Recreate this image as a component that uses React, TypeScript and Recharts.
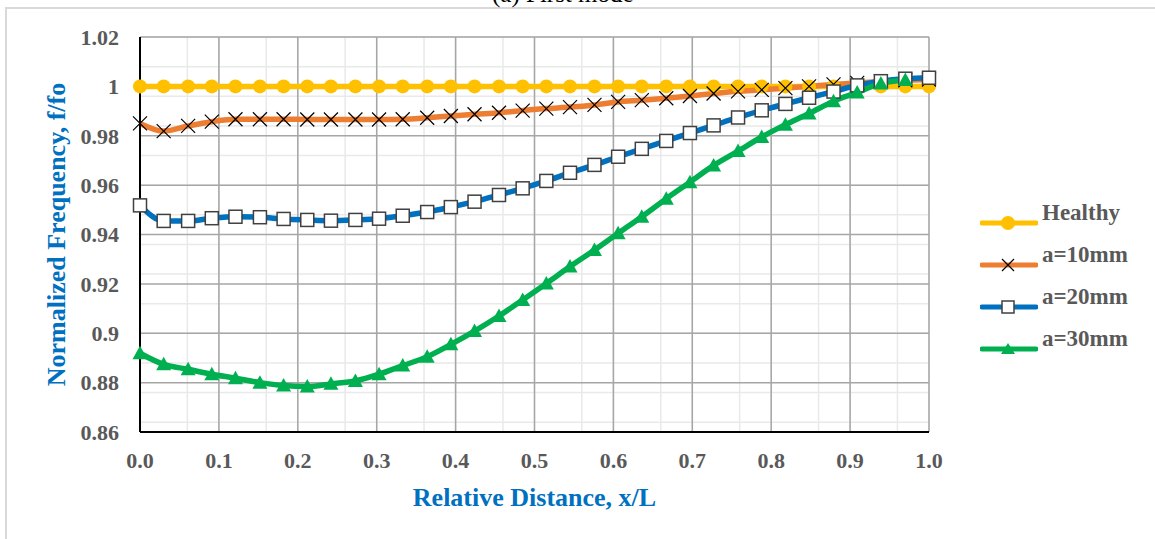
import { LineChart, Line, XAxis, YAxis, CartesianGrid } from "recharts";

const xValues = [
  0, 0.03, 0.061, 0.091, 0.121, 0.152, 0.182, 0.212, 0.242, 0.273, 0.303, 0.333,
  0.364, 0.394, 0.424, 0.455, 0.485, 0.515, 0.545, 0.576, 0.606, 0.636, 0.667,
  0.697, 0.727, 0.758, 0.788, 0.818, 0.848, 0.879, 0.909, 0.939, 0.97, 1.0,
];

const healthy = [
  1, 1, 1, 1, 1, 1, 1, 1, 1, 1, 1, 1, 1, 1, 1, 1, 1, 1, 1, 1, 1, 1, 1, 1, 1, 1,
  1, 1, 1, 1, 1, 1, 1, 1,
];

const a10 = [
  0.985, 0.9819, 0.984, 0.9857, 0.9867, 0.9867, 0.9867, 0.9866, 0.9866, 0.9866,
  0.9866, 0.9867, 0.9873, 0.988, 0.9887, 0.9893, 0.9902, 0.991, 0.9916, 0.9925,
  0.9937, 0.9944, 0.9952, 0.9961, 0.9971, 0.998, 0.9986, 0.9993, 1.0, 1.0008,
  1.0014, 1.002, 1.0025, 1.0028,
];

const a20 = [
  0.9518, 0.9455, 0.9455, 0.9466, 0.9472, 0.947, 0.9463, 0.9459, 0.9456, 0.9459,
  0.9464, 0.9476, 0.9491, 0.9511, 0.9533, 0.956, 0.9587, 0.9617, 0.965, 0.9682,
  0.9715, 0.9747, 0.9779, 0.9811, 0.9842, 0.9874, 0.9903, 0.9929, 0.9954, 0.9979,
  1.0004, 1.0021, 1.0031, 1.0035,
];

// last x has no point for a=30mm
const a30 = [
  0.8919, 0.8874, 0.8854, 0.8834, 0.8818, 0.88, 0.8788, 0.8784, 0.8795, 0.8807,
  0.8834, 0.8869, 0.8905, 0.8955, 0.9009, 0.907, 0.9135, 0.9202, 0.927, 0.9337,
  0.9405, 0.9472, 0.9545, 0.9612, 0.968, 0.9738, 0.9795, 0.9845, 0.989, 0.994,
  0.9975, 1.0012, 1.0026,
];

const xTicks = [0, 0.1, 0.2, 0.3, 0.4, 0.5, 0.6, 0.7, 0.8, 0.9, 1.0];
const yTicks = [0.86, 0.88, 0.9, 0.92, 0.94, 0.96, 0.98, 1.0, 1.02];
const xMinor = [
  0, 0.02, 0.04, 0.06, 0.08, 0.1, 0.12, 0.14, 0.16, 0.18, 0.2, 0.22, 0.24, 0.26,
  0.28, 0.3, 0.32, 0.34, 0.36, 0.38, 0.4, 0.42, 0.44, 0.46, 0.48, 0.5, 0.52, 0.54,
  0.56, 0.58, 0.6, 0.62, 0.64, 0.66, 0.68, 0.7, 0.72, 0.74, 0.76, 0.78, 0.8, 0.82,
  0.84, 0.86, 0.88, 0.9, 0.92, 0.94, 0.96, 0.98, 1.0,
];
const yMinor = [
  0.86, 0.864, 0.868, 0.872, 0.876, 0.88, 0.884, 0.888, 0.892, 0.896, 0.9, 0.904,
  0.908, 0.912, 0.916, 0.92, 0.924, 0.928, 0.932, 0.936, 0.94, 0.944, 0.948,
  0.952, 0.956, 0.96, 0.964, 0.968, 0.972, 0.976, 0.98, 0.984, 0.988, 0.992,
  0.996, 1.0, 1.004, 1.008, 1.012, 1.016, 1.02,
];

const data = xValues.map((x, i) => ({
  x,
  healthy: healthy[i],
  a10: a10[i],
  a20: a20[i],
  a30: a30[i],
}));

const FONT = '"Liberation Serif", "Times New Roman", serif';
const GRAY_TEXT = "#595959";
const BLUE_TEXT = "#0070C0";

const COLORS = {
  healthy: "#FFC000",
  a10: "#ED7D31",
  a20: "#0070C0",
  a30: "#00B050",
};

const W = 1155;
const H = 539;

function circleDot(p: any) {
  if (p.cx == null || p.cy == null) return <g key={p.index} />;
  return <circle key={p.index} cx={p.cx} cy={p.cy} r={7} fill={COLORS.healthy} />;
}

function crossDot(p: any) {
  if (p.cx == null || p.cy == null) return <g key={p.index} />;
  const s = 7;
  return (
    <path
      key={p.index}
      d={`M${p.cx - s},${p.cy - s}L${p.cx + s},${p.cy + s}M${p.cx + s},${p.cy - s}L${p.cx - s},${p.cy + s}`}
      stroke="#000"
      strokeWidth={1.2}
      fill="none"
    />
  );
}

function squareDot(p: any) {
  if (p.cx == null || p.cy == null) return <g key={p.index} />;
  const s = 6.5;
  return (
    <rect
      key={p.index}
      x={p.cx - s}
      y={p.cy - s}
      width={s * 2}
      height={s * 2}
      fill="#fff"
      stroke="#404040"
      strokeWidth={1.5}
    />
  );
}

function triangleDot(p: any) {
  if (p.cx == null || p.cy == null) return <g key={p.index} />;
  const s = 7.5;
  return (
    <path
      key={p.index}
      d={`M${p.cx},${p.cy - s}L${p.cx + s},${p.cy + s * 0.8}L${p.cx - s},${p.cy + s * 0.8}Z`}
      fill={COLORS.a30}
    />
  );
}

const legendItems = [
  { name: "Healthy", color: COLORS.healthy, marker: "circle" },
  { name: "a=10mm", color: COLORS.a10, marker: "cross" },
  { name: "a=20mm", color: COLORS.a20, marker: "square" },
  { name: "a=30mm", color: COLORS.a30, marker: "triangle" },
];

function LegendMarker({ marker, color }: { marker: string; color: string }) {
  const cx = 28;
  const cy = 10;
  let m = null;
  if (marker === "circle") m = <circle cx={cx} cy={cy} r={7} fill={color} />;
  if (marker === "cross")
    m = (
      <path
        d={`M${cx - 6},${cy - 6}L${cx + 6},${cy + 6}M${cx + 6},${cy - 6}L${cx - 6},${cy + 6}`}
        stroke="#000"
        strokeWidth={1.2}
      />
    );
  if (marker === "square")
    m = <rect x={cx - 6} y={cy - 6} width={12} height={12} fill="#fff" stroke="#404040" strokeWidth={1.5} />;
  if (marker === "triangle")
    m = <path d={`M${cx},${cy - 6}L${cx + 7},${cy + 5}L${cx - 7},${cy + 5}Z`} fill={color} />;
  return (
    <svg width={58} height={20} style={{ display: "block" }}>
      <line x1={2} y1={cy} x2={56} y2={cy} stroke={color} strokeWidth={5} strokeLinecap="round" />
      {m}
    </svg>
  );
}

export default function App() {
  return (
    <div style={{ position: "absolute", left: 0, top: 0, width: W, height: H, overflow: "hidden", background: "#fff" }}>
      <div
        style={{
          position: "absolute",
          left: 5,
          top: 7,
          width: W,
          height: H,
          border: "2px solid #d9d9d9",
          boxSizing: "border-box",
        }}
      />
      <div
        style={{
          position: "absolute",
          left: 492,
          top: -19,
          fontFamily: FONT,
          fontSize: 25,
          lineHeight: "25px",
          color: "#000",
          whiteSpace: "nowrap",
        }}
      >
        (a) First mode
      </div>
      <LineChart width={W} height={H} data={data} margin={{ top: 37, right: 226, bottom: 0, left: 0 }}>
        <XAxis xAxisId="minor" dataKey="x" type="number" domain={[0, 1]} ticks={xMinor} hide allowDataOverflow />
        <YAxis yAxisId="minor" type="number" domain={[0.86, 1.02]} ticks={yMinor} hide allowDataOverflow />
        <CartesianGrid xAxisId="minor" yAxisId="minor" stroke="#e9e9e9" strokeWidth={1.5} />
        <CartesianGrid stroke="#a6a6a6" strokeWidth={1.5} />
        <XAxis
          dataKey="x"
          type="number"
          domain={[0, 1]}
          ticks={xTicks}
          height={107}
          tickFormatter={(v: number) => v.toFixed(1)}
          axisLine={{ stroke: "#000", strokeWidth: 2 }}
          tickLine={false}
          tickSize={0}
          tickMargin={20}
          tick={{ fill: GRAY_TEXT, fontSize: 22, fontWeight: "bold", fontFamily: FONT }}
          label={{
            content: (p: any) => {
              const vb = p.viewBox;
              return (
                <text
                  x={vb.x + vb.width / 2}
                  y={vb.y + 74}
                  textAnchor="middle"
                  fill={BLUE_TEXT}
                  fontSize={26}
                  fontWeight="bold"
                  fontFamily={FONT}
                >
                  Relative Distance, x/L
                </text>
              );
            },
          }}
        />
        <YAxis
          type="number"
          domain={[0.86, 1.02]}
          ticks={yTicks}
          width={140}
          tickFormatter={(v: number) => String(Number(v.toFixed(2)))}
          axisLine={{ stroke: "#000", strokeWidth: 2 }}
          tickLine={false}
          tickSize={0}
          tickMargin={21}
          tick={{ fill: GRAY_TEXT, fontSize: 22, fontWeight: "bold", fontFamily: FONT }}
          label={{
            content: (p: any) => {
              const vb = p.viewBox;
              const cx = vb.x + 65;
              const cy = vb.y + vb.height / 2;
              return (
                <text
                  x={cx}
                  y={cy}
                  transform={`rotate(-90 ${cx} ${cy})`}
                  textAnchor="middle"
                  fill={BLUE_TEXT}
                  fontSize={26}
                  fontWeight="bold"
                  fontFamily={FONT}
                >
                  Normalized Frequency, f/fo
                </text>
              );
            },
          }}
        />
        <Line
          type="monotone"
          dataKey="healthy"
          stroke={COLORS.healthy}
          strokeWidth={5.5}
          dot={circleDot}
          activeDot={false}
          isAnimationActive={false}
        />
        <Line
          type="monotone"
          dataKey="a10"
          stroke={COLORS.a10}
          strokeWidth={5.5}
          dot={crossDot}
          activeDot={false}
          isAnimationActive={false}
        />
        <Line
          type="monotone"
          dataKey="a20"
          stroke={COLORS.a20}
          strokeWidth={5.5}
          dot={squareDot}
          activeDot={false}
          isAnimationActive={false}
        />
        <Line
          type="monotone"
          dataKey="a30"
          stroke={COLORS.a30}
          strokeWidth={5.5}
          dot={triangleDot}
          activeDot={false}
          isAnimationActive={false}
        />
      </LineChart>
      <div style={{ position: "absolute", left: 980, top: 202 }}>
        {legendItems.map((it) => (
          <div key={it.name} style={{ display: "flex", alignItems: "center", height: 42, marginTop: 0 }}>
            <LegendMarker marker={it.marker} color={it.color} />
            <span
              style={{
                marginLeft: 4,
                fontFamily: FONT,
                fontSize: 23,
                fontWeight: "bold",
                color: GRAY_TEXT,
                lineHeight: "23px",
                marginTop: -22,
              }}
            >
              {it.name}
            </span>
          </div>
        ))}
      </div>
    </div>
  );
}
